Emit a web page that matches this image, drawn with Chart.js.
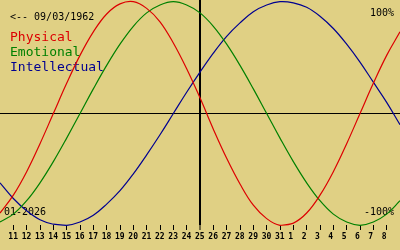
<!DOCTYPE html>
<html>
<head>
<meta charset="utf-8">
<script src="https://cdn.jsdelivr.net/npm/chart.js@4"></script>
<style>
  body { margin: 0; background: #e0d084; }
  canvas { display: block; background: #e0d084; }
</style>
</head>
<body>
<canvas id="chart_bio" width="400" height="250"></canvas>
<script>
// days shown: 10 Jan 2026 .. 9 Feb 2026, today (25) in the middle
const days = ['10','11','12','13','14','15','16','17','18','19','20','21','22','23','24','25',
              '26','27','28','29','30','31','1','2','3','4','5','6','7','8','9'];
const physical     = [-89,-73,-52,-27,0,27,52,73,89,98,100,94,82,63,40,14,-14,-40,-63,-82,-94,-100,-98,-89,-73,-52,-27,0,27,52,73];
const emotional    = [-97,-90,-78,-62,-43,-22,0,22,43,62,78,90,97,100,97,90,78,62,43,22,0,-22,-43,-62,-78,-90,-97,-100,-97,-90,-78];
const intellectual = [-62,-76,-87,-95,-99,-100,-97,-91,-81,-69,-54,-37,-19,0,19,37,54,69,81,91,97,100,99,95,87,76,62,46,28,10,-10];

const birthText = '<-- 09/03/1962';
const monthText = '01-2026';
const topText   = '100%';
const lowText   = '-100%';
const todayIdx  = 15;

const ctx_bio = document.getElementById('chart_bio');

const textPlugin = {
  id: 'bioText',
  beforeDatasetsDraw(chart) {
    const c = chart.ctx;
    c.save();
    c.textBaseline = 'middle';
    c.fillStyle = '#000';
    c.font = '10px "DejaVu Sans Mono"';
    c.textAlign = 'left';
    c.fillText(birthText, 10, 17);
    c.fillText(monthText, 4, 212);
    c.textAlign = 'right';
    c.fillText(topText, 394, 13);
    c.fillText(lowText, 394, 212);
    c.textAlign = 'left';
    c.font = '13px "DejaVu Sans Mono"';
    chart.data.datasets.forEach(function (ds, i) {
      c.fillStyle = ds.borderColor;
      c.fillText(ds.label, 10, 38 + 15 * i);
    });
    c.restore();
  }
};

const isToday = c => c.tick && c.tick.value === todayIdx;

const configBio = {
  type: 'line',
  data: {
    labels: days,
    datasets: [{
        label: 'Physical',
        data: physical,
        borderColor: '#dd0000',
    },
    {
        label: 'Emotional',
        data: emotional,
        borderColor: '#008000',
    },
    {
        label: 'Intellectual',
        data: intellectual,
        borderColor: '#000090',
    }]},
  options: {
    responsive: false,
    animation: false,
    devicePixelRatio: 1,
    layout: { padding: 0 },
    elements: {
      line: { borderWidth: 1.2, tension: 0.4, fill: false },
      point: { radius: 0 }
    },
    datasets: { line: { clip: false } },
    plugins: {
      legend: { display: false },
      tooltip: { enabled: false }
    },
    scales: {
      x: {
        type: 'category',
        offset: false,
        border: { display: false },
        grid: {
          color: c => isToday(c) ? '#000' : 'rgba(0,0,0,0)',
          lineWidth: c => isToday(c) ? 2 : 1,
          tickColor: '#000',
          tickWidth: 1,
          tickLength: 5
        },
        ticks: {
          autoSkip: false,
          maxRotation: 0,
          align: 'start',
          labelOffset: -5,
          padding: 2,
          color: '#000',
          font: { family: 'DejaVu Sans Mono', size: 8, weight: 'bold' },
          callback: (v, i) => (v === 0 || v === days.length - 1) ? null : days[v]
        },
        afterFit: s => { s.height = 25; s.paddingLeft = 0; s.paddingRight = 0; }
      },
      y: {
        min: -99.7,
        max: 101.5,
        border: { display: false },
        grid: {
          drawTicks: false,
          color: c => (c.tick && c.tick.value === 0) ? '#000' : 'rgba(0,0,0,0)',
          lineWidth: 1
        },
        ticks: { display: false },
        afterBuildTicks: s => { s.ticks = [{ value: 0 }]; },
        afterFit: s => { s.width = 0; }
      }
    }
  },
  plugins: [textPlugin]
};

const chartBio = new Chart(ctx_bio, configBio);
</script>
</body>
</html>
